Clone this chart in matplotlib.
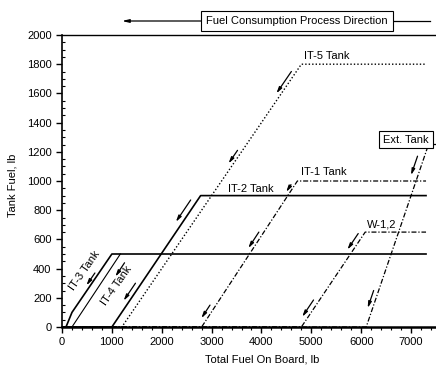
import numpy as np
import matplotlib
matplotlib.use("Agg")
import matplotlib.pyplot as plt
from matplotlib.ticker import MultipleLocator

plt.rcParams["font.family"] = ["Liberation Sans", "DejaVu Sans"]
plt.rcParams["font.size"] = 8

# ── Tank fuel vs total fuel on board (lb) ──────────────────────────────────
it3_x = [0, 80, 200, 1000, 7300]
it3_y = [0, 0, 100, 500, 500]
it4_x = [0, 200, 1170]
it4_y = [0, 0, 500]
it2_x = [0, 1000, 2780, 7300]
it2_y = [0, 0, 900, 900]
it5_x = [0, 1200, 4800, 7300]
it5_y = [0, 0, 1800, 1800]
it1_x = [0, 2800, 4720, 7300]
it1_y = [0, 0, 1000, 1000]
w12_x = [0, 4800, 6080, 7300]
w12_y = [0, 0, 650, 650]
ext_x = [0, 6100, 7350, 7500]
ext_y = [0, 0, 1250, 1250]

# direction arrows: (tank, fuel at tail, fuel at head, sideways shift in px)
ARROWS = [
    ("it5", 1750, 1600, -5), ("it5", 1210, 1120, -5),
    ("it2", 870, 720, -7), ("it2", 300, 180, -6),
    ("it1", 975, 925, -4), ("it1", 650, 540, -5), ("it1", 150, 60, -6),
    ("w12", 640, 530, -6), ("w12", 185, 70, -6),
    ("ext", 250, 130, -5), ("ext", 1170, 1040, -7),
    ("it3", 370, 285, -4), ("it4", 440, 345, 10),
]

XMAX = 7500
PX_PER_LB = 374 / XMAX  # horizontal pixels per lb of total fuel

fig = plt.figure(figsize=(4.36, 3.72), dpi=100)
ax = fig.add_axes([62 / 436, 45 / 372, 374 / 436, 292 / 372])

solid = dict(color="black", lw=1.2)
ax.plot(it3_x, it3_y, **solid)
ax.plot(it4_x, it4_y, color="black", lw=0.8)
ax.plot(it2_x, it2_y, **solid)
ax.plot(it5_x, it5_y, color="black", lw=1.0, linestyle=(0, (1, 1.5)))
ax.plot(it1_x, it1_y, color="black", lw=0.9, linestyle=(0, (4, 1.5, 1, 1.5)))
ax.plot(w12_x, w12_y, color="black", lw=0.9, linestyle=(0, (4, 1.5, 1, 1.5)))
ax.plot(ext_x, ext_y, color="black", lw=0.9, linestyle=(0, (4, 1.5, 1, 1.5)))

series = {"it3": (it3_x, it3_y), "it4": (it4_x, it4_y), "it2": (it2_x, it2_y),
          "it5": (it5_x, it5_y), "it1": (it1_x, it1_y), "w12": (w12_x, w12_y),
          "ext": (ext_x, ext_y)}


def x_on_ramp(xs, ys, y):
    # x position on the rising part of a tank curve at tank fuel y
    i0 = max(i for i in range(len(ys)) if ys[i] == 0)
    i1 = ys.index(max(ys))
    return float(np.interp(y, ys[i0:i1 + 1], xs[i0:i1 + 1]))


for name, y_tail, y_head, shift in ARROWS:
    xs, ys = series[name]
    dx = shift / PX_PER_LB
    x_tail = x_on_ramp(xs, ys, y_tail) + dx
    x_head = x_on_ramp(xs, ys, y_head) + dx
    ax.annotate("", xy=(x_head, y_head), xytext=(x_tail, y_tail),
                arrowprops=dict(arrowstyle="-|>,head_length=0.45,head_width=0.12",
                                color="black", lw=0.9, shrinkA=0, shrinkB=0))

# tank labels
ax.text(4850, 1855, "IT-5 Tank", ha="left", va="center")
ax.text(4790, 1065, "IT-1 Tank", ha="left", va="center")
ax.text(3780, 945, "IT-2 Tank", ha="center", va="center")
ax.text(6110, 705, "W-1,2", ha="left", va="center")
ax.text(6900, 1284, "Ext. Tank", ha="center", va="center",
        bbox=dict(boxstyle="square,pad=0.35", fc="white", ec="black", lw=0.8))
ax.text(450, 385, "IT-3 Tank", ha="center", va="center", rotation=55)
ax.text(1100, 280, "IT-4 Tank", ha="center", va="center", rotation=55)

# process direction banner above the plot
y_ban = 1 - 21 / 372
fig.add_artist(plt.Line2D([392 / 436, 430 / 436], [y_ban, y_ban],
                          transform=fig.transFigure, color="black", lw=0.9))
ax.annotate("", xy=(122 / 436, y_ban), xytext=(202 / 436, y_ban),
            xycoords="figure fraction", textcoords="figure fraction",
            arrowprops=dict(arrowstyle="-|>,head_length=0.5,head_width=0.12",
                            color="black", lw=0.9, shrinkA=0, shrinkB=0))
fig.text(297 / 436, y_ban, "Fuel Consumption Process Direction",
         ha="center", va="center",
         bbox=dict(boxstyle="square,pad=0.45", fc="white", ec="black", lw=0.8))

ax.set_xlim(0, XMAX)
ax.set_ylim(0, 2000)
ax.xaxis.set_major_locator(MultipleLocator(1000))
ax.xaxis.set_minor_locator(MultipleLocator(200))
ax.yaxis.set_major_locator(MultipleLocator(200))
ax.yaxis.set_minor_locator(MultipleLocator(50))
ax.tick_params(axis="x", which="major", direction="out", length=4, width=1)
ax.tick_params(axis="x", which="minor", direction="out", length=2.5, width=0.8)
ax.tick_params(axis="y", which="major", direction="out", length=4, width=1)
ax.tick_params(axis="y", which="minor", direction="in", length=2.5, width=0.8)
ax.spines["right"].set_visible(False)
ax.spines["bottom"].set_linewidth(1.8)
ax.spines["left"].set_linewidth(1.2)
ax.spines["top"].set_linewidth(1.0)

ax.set_xlabel("Total Fuel On Board, lb")
ax.set_ylabel("Tank Fuel, lb")
ax.xaxis.set_label_coords(0.535, -0.095)
ax.yaxis.set_label_coords(-0.12, 0.486)

fig.savefig("out.png", dpi=100)
